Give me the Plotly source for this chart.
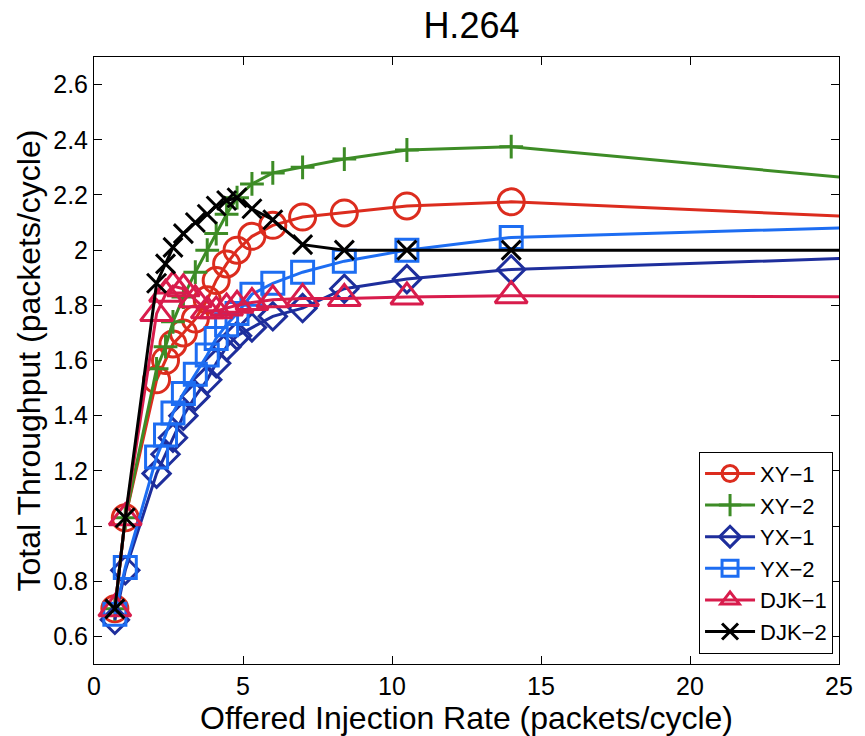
import plotly.graph_objects as go

# Offered injection rate (packets/cycle); the last sample lies past the axis end
rate = [0.7, 1.05, 2.1, 2.4, 2.65, 3.0, 3.4, 3.8, 4.1, 4.45, 4.8, 5.3, 6.0, 7.0, 8.4, 10.5, 14.0, 28.0]

# Total throughput (packets/cycle) per routing scheme
xy1 = [0.70, 1.03, 1.53, 1.60, 1.66, 1.70, 1.75, 1.82, 1.89, 1.95, 2.00, 2.05, 2.09, 2.12, 2.135, 2.16, 2.175, 2.11]
xy2 = [0.70, 1.03, 1.57, 1.65, 1.74, 1.83, 1.92, 2.00, 2.06, 2.13, 2.19, 2.24, 2.28, 2.30, 2.33, 2.363, 2.375, 2.235]
yx1 = [0.66, 0.84, 1.19, 1.26, 1.32, 1.40, 1.47, 1.53, 1.59, 1.65, 1.69, 1.72, 1.76, 1.79, 1.86, 1.895, 1.93, 1.98]
yx2 = [0.68, 0.85, 1.25, 1.33, 1.41, 1.48, 1.55, 1.62, 1.68, 1.73, 1.77, 1.84, 1.88, 1.92, 1.96, 2.00, 2.046, 2.09]
djk1 = [0.70, 1.03, 1.77, 1.84, 1.87, 1.86, 1.82, 1.78, 1.78, 1.79, 1.80, 1.81, 1.82, 1.825, 1.825, 1.83, 1.835, 1.83]
djk2 = [0.70, 1.03, 1.88, 1.95, 2.01, 2.06, 2.10, 2.13, 2.16, 2.18, 2.19, 2.15, 2.11, 2.02, 2.00, 2.00, 2.00, 2.00]

names = ["XY\u22121", "XY\u22122", "YX\u22121", "YX\u22122", "DJK\u22121", "DJK\u22122"]
colors = ["#dc2c1e", "#3d8c26", "#1e2e9c", "#1d6df2", "#d81c4c", "#000000"]
symbols = ["circle-open", "cross-thin-open", "diamond-open", "square-open", "triangle-up-open", "x-thin-open"]
sizes = [26, 17, 21, 22, 28, 19]

FONT = "Liberation Sans, Arial, sans-serif"

fig = go.Figure()
for ys, name, col, sym, sz in zip([xy1, xy2, yx1, yx2, djk1, djk2], names, colors, symbols, sizes):
    fig.add_trace(go.Scatter(
        x=rate, y=ys, name=name, mode="lines+markers",
        line=dict(color=col, width=3),
        marker=dict(symbol=sym, size=sz, color=col, line=dict(color=col, width=3)),
    ))

axis_common = dict(
    showline=True, linecolor="black", linewidth=1, mirror="ticks",
    ticks="inside", ticklen=8, tickcolor="black", showgrid=False, zeroline=False,
    tickfont=dict(family=FONT, size=25, color="black"),
)

fig.update_layout(
    width=865, height=736,
    margin=dict(l=94, r=17, t=57, b=72),
    paper_bgcolor="white", plot_bgcolor="white",
    title=dict(text="H.264", x=0.545, xanchor="center", y=0.965, yanchor="middle",
               font=dict(family=FONT, size=36, color="black")),
    xaxis=dict(range=[0, 25], tickvals=[0, 5, 10, 15, 20, 25], **axis_common),
    yaxis=dict(range=[0.5, 2.7], tickvals=[0.6, 0.8, 1.0, 1.2, 1.4, 1.6, 1.8, 2.0, 2.2, 2.4, 2.6],
               ticktext=["0.6", "0.8", "1", "1.2", "1.4", "1.6", "1.8", "2", "2.2", "2.4", "2.6"],
               title=dict(text="Total Throughput (packets/cycle)", standoff=3,
                          font=dict(family=FONT, size=32, color="black")),
               **axis_common),
    legend=dict(x=0.992, y=0.017, xanchor="right", yanchor="bottom",
                bgcolor="white", bordercolor="black", borderwidth=1,
                font=dict(family=FONT, size=22, color="black"),
                itemwidth=50, tracegroupgap=0),
    showlegend=True,
)

# x-axis title placed as a paper annotation just below the tick labels
fig.add_annotation(text="Offered Injection Rate (packets/cycle)", xref="paper", yref="paper",
                   x=0.5, y=-0.089, xanchor="center", yanchor="middle", showarrow=False,
                   font=dict(family=FONT, size=32, color="black"))

fig.write_html("out.html")
